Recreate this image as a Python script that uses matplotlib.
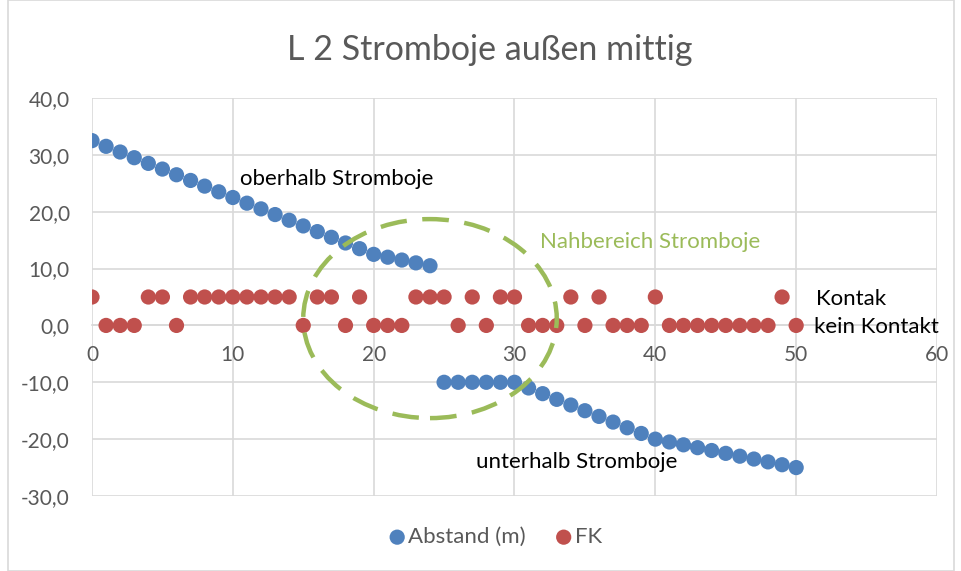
import matplotlib.pyplot as plt
from matplotlib.patches import Ellipse, Rectangle

plt.rcParams["font.family"] = ["Lato", "DejaVu Sans"]

# Abstand (m): upper branch x=0..24, lower branch x=25..50
x_upper = list(range(0, 25))
abstand_upper = [32.5, 31.5, 30.5, 29.5, 28.5, 27.5, 26.5, 25.5, 24.5, 23.5,
                 22.5, 21.5, 20.5, 19.5, 18.5, 17.5, 16.5, 15.5, 14.5, 13.5,
                 12.5, 12.0, 11.5, 11.0, 10.5]
x_lower = list(range(25, 51))
abstand_lower = [-10, -10, -10, -10, -10, -10, -11, -12, -13, -14,
                 -15, -16, -17, -18, -19, -20, -20.5, -21, -21.5, -22,
                 -22.5, -23, -23.5, -24, -24.5, -25]

x_fk = list(range(0, 51))
fk = [5, 0, 0, 0, 5, 5, 0, 5, 5, 5,
      5, 5, 5, 5, 5, 0, 5, 5, 0, 5,
      0, 0, 0, 5, 5, 5, 0, 5, 0, 5,
      5, 0, 0, 0, 5, 0, 5, 0, 0, 0,
      5, 0, 0, 0, 0, 0, 0, 0, 0, 5,
      0]

x_ticks = [0, 10, 20, 30, 40, 50, 60]
y_ticks = [40, 30, 20, 10, 0, -10, -20, -30]

blue = "#4F81BD"
red = "#C0504D"
green = "#9BBB59"
grid_c = "#D9D9D9"
text_c = "#595959"

fig = plt.figure(figsize=(9.62, 5.71), dpi=100)
ax = fig.add_axes([92 / 962, 1 - 496 / 571, (937 - 92) / 962, (496 - 98) / 571])

ax.scatter(x_upper + x_lower, abstand_upper + abstand_lower, s=120, color=blue,
           zorder=3, label="Abstand (m)", edgecolors="none")
ax.scatter(x_fk, fk, s=120, color=red, zorder=3, label="FK", edgecolors="none")

ax.set_xlim(0, 60)
ax.set_ylim(-30, 40)
ax.set_xticks(x_ticks)
ax.set_yticks(y_ticks)
ax.set_yticklabels([f"{v:.1f}".replace(".", ",") for v in y_ticks])
ax.grid(True, color=grid_c, linewidth=1.2, zorder=0)
ax.set_axisbelow(True)

for side in ["top", "right", "left"]:
    ax.spines[side].set_visible(False)
ax.spines["bottom"].set_position(("data", 0))
ax.spines["bottom"].set_color(grid_c)
ax.spines["bottom"].set_linewidth(1.2)
ax.tick_params(axis="x", length=0, pad=14, labelsize=15, labelcolor=text_c)
ax.tick_params(axis="y", length=0, pad=16, labelsize=15, labelcolor=text_c)

ell = Ellipse((24.0, 1.2), 18.0, 35.0, fill=False, edgecolor=green, linewidth=3.2,
              linestyle=(0, (6, 3.5)), zorder=4, clip_on=False)
ax.add_patch(ell)

ax.text(10.5, 25.8, "oberhalb Stromboje", fontsize=16, color="black", va="center")
ax.text(31.8, 14.6, "Nahbereich Stromboje", fontsize=16, color=green, va="center")
ax.text(27.3, -24.0, "unterhalb Stromboje", fontsize=16, color="black", va="center")
ax.text(51.4, 4.6, "Kontak", fontsize=16, color="black", va="center")
ax.text(51.3, -0.3, "kein Kontakt", fontsize=16, color="black", va="center")

fig.text(490 / 962, 1 - 50 / 571, "L 2 Stromboje außen mittig", fontsize=24.5,
         color=text_c, ha="center", va="center")

fig.legend(loc="center", bbox_to_anchor=(494 / 962, 1 - 537 / 571), ncol=2,
           frameon=False, fontsize=16, handletextpad=0.0, columnspacing=1.2,
           handlelength=1.0, markerscale=1.0, labelcolor=text_c)

fig.patches.append(Rectangle((8 / 962, 0), 1 - 16 / 962, 1, transform=fig.transFigure,
                             fill=False, edgecolor=grid_c, linewidth=1.2))

fig.savefig("out.png", dpi=100)
